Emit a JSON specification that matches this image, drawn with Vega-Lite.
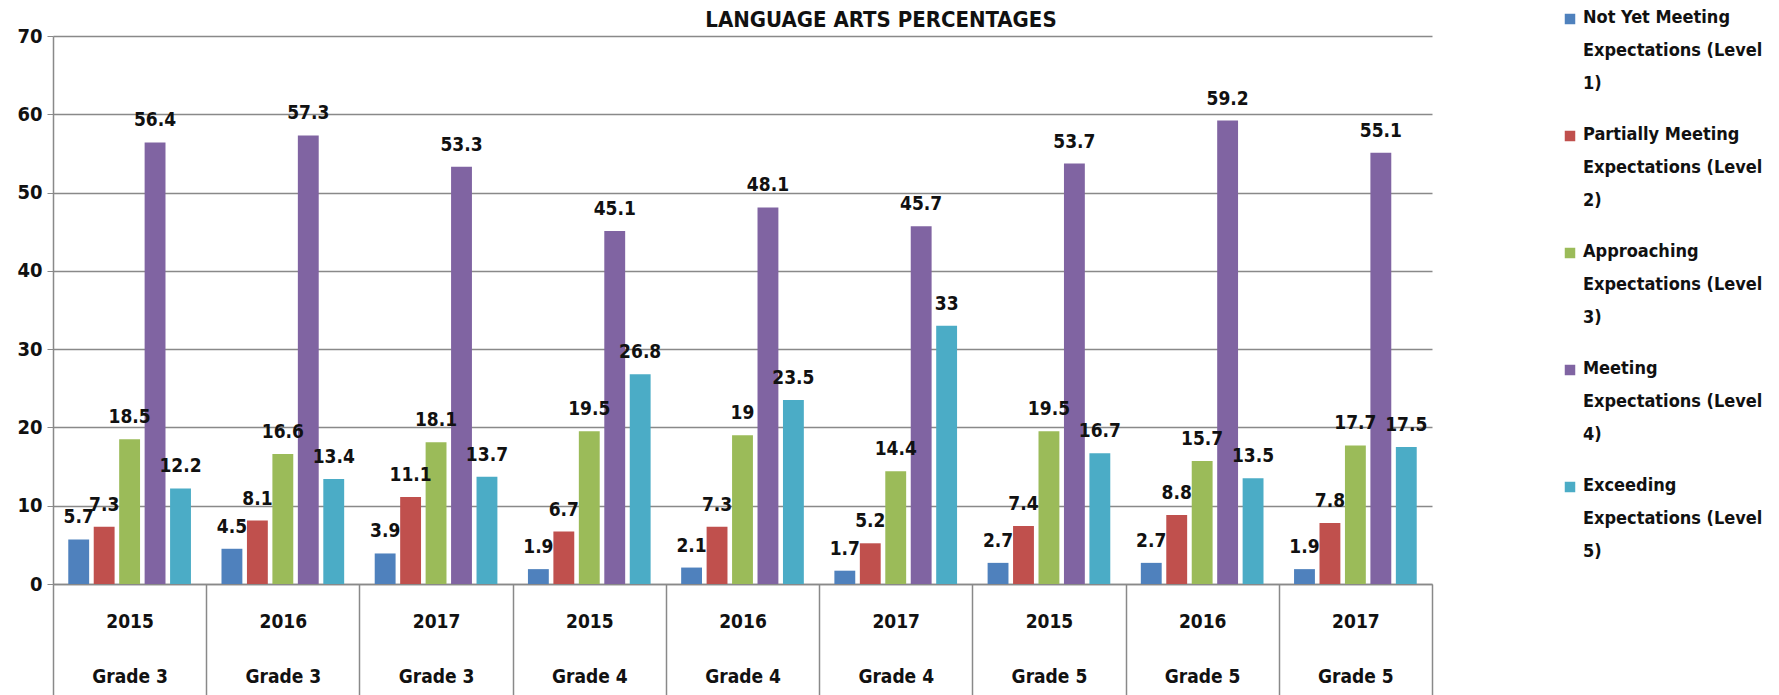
{
  "$schema": "https://vega.github.io/schema/vega-lite/v6.json",
  "autosize": {"type": "none"},
  "padding": {"left": 53, "top": 36, "right": 347, "bottom": 111},
  "width": 1379,
  "height": 548,
  "background": "white",
  "config": {
    "view": {"stroke": null},
    "font": "DejaVu Sans Condensed, Liberation Sans, sans-serif"
  },
  "title": {
    "text": "LANGUAGE ARTS PERCENTAGES",
    "font": "DejaVu Sans Condensed, Liberation Sans, sans-serif",
    "fontSize": 22,
    "fontWeight": "bold",
    "color": "#111",
    "anchor": "middle",
    "frame": "bounds",
    "offset": -22,
    "dx": -12
  },
  "data": {
    "values": [
      {"cat": "2015|Grade 3", "level": "Not Yet Meeting|Expectations  (Level|1)", "pct": 5.7},
      {"cat": "2015|Grade 3", "level": "Partially Meeting|Expectations  (Level|2)", "pct": 7.3},
      {"cat": "2015|Grade 3", "level": "Approaching|Expectations (Level|3)", "pct": 18.5},
      {"cat": "2015|Grade 3", "level": "Meeting|Expectations (Level|4)", "pct": 56.4},
      {"cat": "2015|Grade 3", "level": "Exceeding|Expectations (Level|5)", "pct": 12.2},
      {"cat": "2016|Grade 3", "level": "Not Yet Meeting|Expectations  (Level|1)", "pct": 4.5},
      {"cat": "2016|Grade 3", "level": "Partially Meeting|Expectations  (Level|2)", "pct": 8.1},
      {"cat": "2016|Grade 3", "level": "Approaching|Expectations (Level|3)", "pct": 16.6},
      {"cat": "2016|Grade 3", "level": "Meeting|Expectations (Level|4)", "pct": 57.3},
      {"cat": "2016|Grade 3", "level": "Exceeding|Expectations (Level|5)", "pct": 13.4},
      {"cat": "2017|Grade 3", "level": "Not Yet Meeting|Expectations  (Level|1)", "pct": 3.9},
      {"cat": "2017|Grade 3", "level": "Partially Meeting|Expectations  (Level|2)", "pct": 11.1},
      {"cat": "2017|Grade 3", "level": "Approaching|Expectations (Level|3)", "pct": 18.1},
      {"cat": "2017|Grade 3", "level": "Meeting|Expectations (Level|4)", "pct": 53.3},
      {"cat": "2017|Grade 3", "level": "Exceeding|Expectations (Level|5)", "pct": 13.7},
      {"cat": "2015|Grade 4", "level": "Not Yet Meeting|Expectations  (Level|1)", "pct": 1.9},
      {"cat": "2015|Grade 4", "level": "Partially Meeting|Expectations  (Level|2)", "pct": 6.7},
      {"cat": "2015|Grade 4", "level": "Approaching|Expectations (Level|3)", "pct": 19.5},
      {"cat": "2015|Grade 4", "level": "Meeting|Expectations (Level|4)", "pct": 45.1},
      {"cat": "2015|Grade 4", "level": "Exceeding|Expectations (Level|5)", "pct": 26.8},
      {"cat": "2016|Grade 4", "level": "Not Yet Meeting|Expectations  (Level|1)", "pct": 2.1},
      {"cat": "2016|Grade 4", "level": "Partially Meeting|Expectations  (Level|2)", "pct": 7.3},
      {"cat": "2016|Grade 4", "level": "Approaching|Expectations (Level|3)", "pct": 19},
      {"cat": "2016|Grade 4", "level": "Meeting|Expectations (Level|4)", "pct": 48.1},
      {"cat": "2016|Grade 4", "level": "Exceeding|Expectations (Level|5)", "pct": 23.5},
      {"cat": "2017|Grade 4", "level": "Not Yet Meeting|Expectations  (Level|1)", "pct": 1.7},
      {"cat": "2017|Grade 4", "level": "Partially Meeting|Expectations  (Level|2)", "pct": 5.2},
      {"cat": "2017|Grade 4", "level": "Approaching|Expectations (Level|3)", "pct": 14.4},
      {"cat": "2017|Grade 4", "level": "Meeting|Expectations (Level|4)", "pct": 45.7},
      {"cat": "2017|Grade 4", "level": "Exceeding|Expectations (Level|5)", "pct": 33},
      {"cat": "2015|Grade 5", "level": "Not Yet Meeting|Expectations  (Level|1)", "pct": 2.7},
      {"cat": "2015|Grade 5", "level": "Partially Meeting|Expectations  (Level|2)", "pct": 7.4},
      {"cat": "2015|Grade 5", "level": "Approaching|Expectations (Level|3)", "pct": 19.5},
      {"cat": "2015|Grade 5", "level": "Meeting|Expectations (Level|4)", "pct": 53.7},
      {"cat": "2015|Grade 5", "level": "Exceeding|Expectations (Level|5)", "pct": 16.7},
      {"cat": "2016|Grade 5", "level": "Not Yet Meeting|Expectations  (Level|1)", "pct": 2.7},
      {"cat": "2016|Grade 5", "level": "Partially Meeting|Expectations  (Level|2)", "pct": 8.8},
      {"cat": "2016|Grade 5", "level": "Approaching|Expectations (Level|3)", "pct": 15.7},
      {"cat": "2016|Grade 5", "level": "Meeting|Expectations (Level|4)", "pct": 59.2},
      {"cat": "2016|Grade 5", "level": "Exceeding|Expectations (Level|5)", "pct": 13.5},
      {"cat": "2017|Grade 5", "level": "Not Yet Meeting|Expectations  (Level|1)", "pct": 1.9},
      {"cat": "2017|Grade 5", "level": "Partially Meeting|Expectations  (Level|2)", "pct": 7.8},
      {"cat": "2017|Grade 5", "level": "Approaching|Expectations (Level|3)", "pct": 17.7},
      {"cat": "2017|Grade 5", "level": "Meeting|Expectations (Level|4)", "pct": 55.1},
      {"cat": "2017|Grade 5", "level": "Exceeding|Expectations (Level|5)", "pct": 17.5}
    ]
  },
  "encoding": {
    "x": {
      "field": "cat",
      "type": "nominal",
      "sort": null,
      "scale": {"paddingInner": 0, "paddingOuter": 0},
      "axis": {
        "title": null,
        "grid": false,
        "labelAngle": 0,
        "labelExpr": "split(datum.label, '|')",
        "tickBand": "extent",
        "tickSize": 111,
        "tickColor": "#898989",
        "tickWidth": 1.5,
        "domainColor": "#898989",
        "domainWidth": 1.5,
        "labelPadding": -83,
        "labelBaseline": "top",
        "labelLineHeight": 55,
        "labelFontSize": 19,
        "labelFontWeight": "bold",
        "labelColor": "#111",
        "labelOverlap": false
      }
    },
    "xOffset": {
      "field": "level",
      "type": "nominal",
      "sort": null,
      "scale": {"paddingInner": 0.18, "paddingOuter": 0.6}
    },
    "y": {
      "field": "pct",
      "type": "quantitative",
      "scale": {"domain": [0, 70]},
      "axis": {
        "title": null,
        "values": [0, 10, 20, 30, 40, 50, 60, 70],
        "grid": true,
        "gridColor": "#898989",
        "gridWidth": 1.5,
        "domainColor": "#898989",
        "domainWidth": 1.5,
        "tickColor": "#898989",
        "tickSize": 6,
        "labelFontSize": 20,
        "labelFontWeight": "bold",
        "labelColor": "#111",
        "labelPadding": 5
      }
    }
  },
  "layer": [
    {
      "mark": {"type": "bar"},
      "encoding": {
        "color": {
          "field": "level",
          "type": "nominal",
          "sort": null,
          "scale": {"range": ["#4F81BD", "#C0504D", "#9BBB59", "#8064A2", "#4BACC6"]},
          "legend": {
            "title": null,
            "orient": "none",
            "legendX": 1508,
            "legendY": -26,
            "padding": 0,
            "labelExpr": "split(datum.label, '|')",
            "symbolType": "square",
            "symbolSize": 110,
            "symbolStrokeWidth": 0,
            "labelFontSize": 18,
            "labelFontWeight": "bold",
            "labelColor": "#111",
            "labelBaseline": "top",
            "labelLimit": 300,
            "labelOffset": 4,
            "rowPadding": 33,
            "encode": {"labels": {"update": {"dy": {"value": -10}, "lineHeight": {"value": 33}}}}
          }
        }
      }
    },
    {
      "mark": {"type": "text", "baseline": "bottom", "dy": -12, "fontSize": 19, "fontWeight": "bold", "color": "#111"},
      "encoding": {"text": {"field": "pct", "type": "quantitative"}}
    }
  ]
}
